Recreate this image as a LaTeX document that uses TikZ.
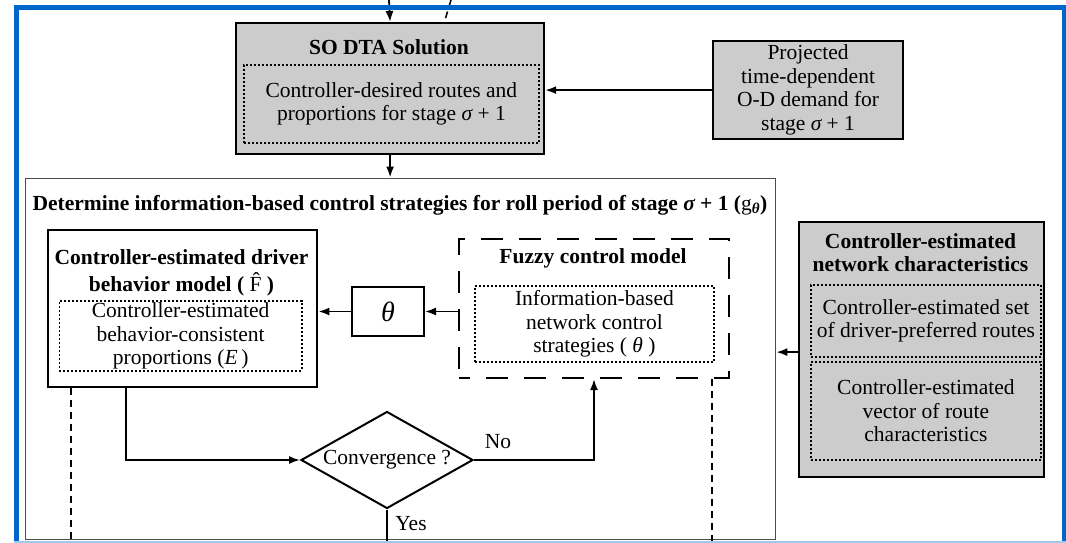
\documentclass[tikz,border=0pt]{standalone}
\usepackage{fontspec}
\setmainfont{Liberation Serif}
\usetikzlibrary{arrows.meta,shapes.geometric,calc}
\definecolor{boxgray}{RGB}{204,204,204}
\definecolor{frameblue}{RGB}{0,102,204}
\definecolor{lightblue}{RGB}{160,200,235}
\newcommand{\fs}{\fontsize{21.5}{23.5}\selectfont}
\newcommand{\sig}{{\itshape σ}}
\newcommand{\thet}{{\itshape θ}}
\begin{document}
\begin{tikzpicture}[x=1pt,y=-1pt,
  txt/.style={font=\fs, inner sep=0pt},
  btxt/.style={font=\fs\bfseries, inner sep=0pt},
  graybox/.style={draw=black, line width=2.2pt, fill=boxgray, inner sep=0pt, anchor=north west, font=\fs, align=center},
  whitebox/.style={draw=black, line width=2.4pt, fill=white, inner sep=0pt, anchor=north west},
  dotbox/.style={draw=black, line width=1.8pt, dash pattern=on 2pt off 2pt, inner sep=0pt, anchor=north west, align=center, font=\fs},
  dashbox/.style={draw=black, line width=2pt, dash pattern=on 22pt off 16pt, dash phase=11pt, inner sep=0pt, anchor=north west},
  arr/.style={-{Latex[length=11pt,width=8pt]}, line width=1.8pt},
  plain/.style={line width=1.8pt},
  dashline/.style={line width=1.5pt, dash pattern=on 7pt off 5pt},
]
\useasboundingbox (0,0) rectangle (1066,543);
\fill[white] (0,0) rectangle (1066,543);

% SO DTA box
\node[graybox, minimum width=308pt, minimum height=131pt] (so) at (235,22) {};
\node[btxt] (sotitle) at (389,47) {SO DTA Solution};
\node[dotbox, minimum width=295pt, minimum height=78pt] (sodot) at (243,64)
  {Controller-desired routes and\\proportions for stage \sig{} + 1};

% Projected demand
\node[graybox, minimum width=190pt, minimum height=98pt] (proj) at (712,40)
  {Projected\\time-dependent\\O-D demand for\\stage \sig{} + 1};
\draw[arr] (proj.west) -- (proj.west -| so.east);

% incoming lines from top
\coordinate (topin) at (389,0);
\draw[arr] (topin) -- (so.north);
\coordinate (d1) at (451,0);
\coordinate (d2) at (445,20);
\draw[dashline] (d1) -- (d2);

% big box
\node[draw=black!70, line width=1.3pt, minimum width=750pt, minimum height=361pt, anchor=north west, inner sep=0pt] (big) at (25,177.5) {};
\draw[arr] (so.south) -- (so.south |- big.north);
\node[btxt] (bigtitle) at (400,205) {Determine information-based control strategies for roll period of stage \sig{} + 1 (\textnormal{g}\textsubscript{\thet})};

% driver behavior model
\node[whitebox, minimum width=269pt, minimum height=157pt] (drv) at (47,229) {};
\node[btxt] (drvtitle1) at (181.5,257) {Controller-estimated driver};
\node[btxt] (drvtitle2) at (181.5,284) {behavior model ( {\mdseries\^{F}} )};
\node[dotbox, minimum width=242.5pt, minimum height=70pt] (drvdot) at (58.5,300)
  {Controller-estimated\\behavior-consistent\\proportions (\textit{E}\,)};

% theta box
\node[draw=black, line width=2pt, minimum width=72pt, minimum height=49pt, anchor=north west, inner sep=0pt, font=\fontsize{28}{28}\selectfont\itshape] (th) at (351,286) {θ};

% fuzzy control model
\node[dashbox, minimum width=270pt, minimum height=139pt] (fz) at (458,238) {};
\node[btxt] (fztitle) at (593,258) {Fuzzy control model};
\node[dotbox, minimum width=239pt, minimum height=76pt] (fzdot) at (474,285)
  {Information-based\\network control\\strategies ( \thet{} )};

\draw[arr] (th.east -| fz.west) -- (th.east);
\draw[arr] (th.west) -- (th.west -| drv.east);

% network characteristics
\node[graybox, minimum width=245pt, minimum height=255pt] (net) at (798,221) {};
\node[btxt, align=center] (nettitle) at (920.5,252.5) {Controller-estimated\\network characteristics};
\node[dotbox, minimum width=230pt, minimum height=72pt] (netdot1) at (810,284)
  {Controller-estimated set\\of driver-preferred routes};
\node[dotbox, minimum width=230pt, minimum height=98pt] (netdot2) at (810,361)
  {Controller-estimated\\vector of route\\characteristics};
\draw[arr] ([yshift=-2.5pt]net.west) -- ([yshift=-2.5pt]net.west -| big.east);

% convergence
\node[diamond, draw=black, line width=2pt, minimum width=172pt, minimum height=97pt, aspect=1.77, inner sep=0pt, font=\fs] (conv) at (387,460) {Convergence ?};
\draw[arr] ([xshift=79pt]drv.south west) |- (conv.west);
\draw[arr] (conv.east) -| (fz.south);
\coordinate (yesend) at (387,543);
\draw[plain] (conv.south) -- (yesend);
\node[txt] (no) at (498,442) {No};
\node[txt] (yes) at (411,524) {Yes};

% dashed verticals
\coordinate (dl) at (71,543);
\coordinate (dr) at (712,543);
\draw[dashline] (drv.south -| dl) -- (dl);
\draw[dashline] (fz.south -| dr) -- (dr);

% blue frame
\draw[frameblue, line width=5pt] (16.5,543) -- (16.5,7.5) -- (1064,7.5) -- (1064,543);
\draw[lightblue, line width=2pt] (14,542) -- (1066,542);
\end{tikzpicture}
\end{document}
